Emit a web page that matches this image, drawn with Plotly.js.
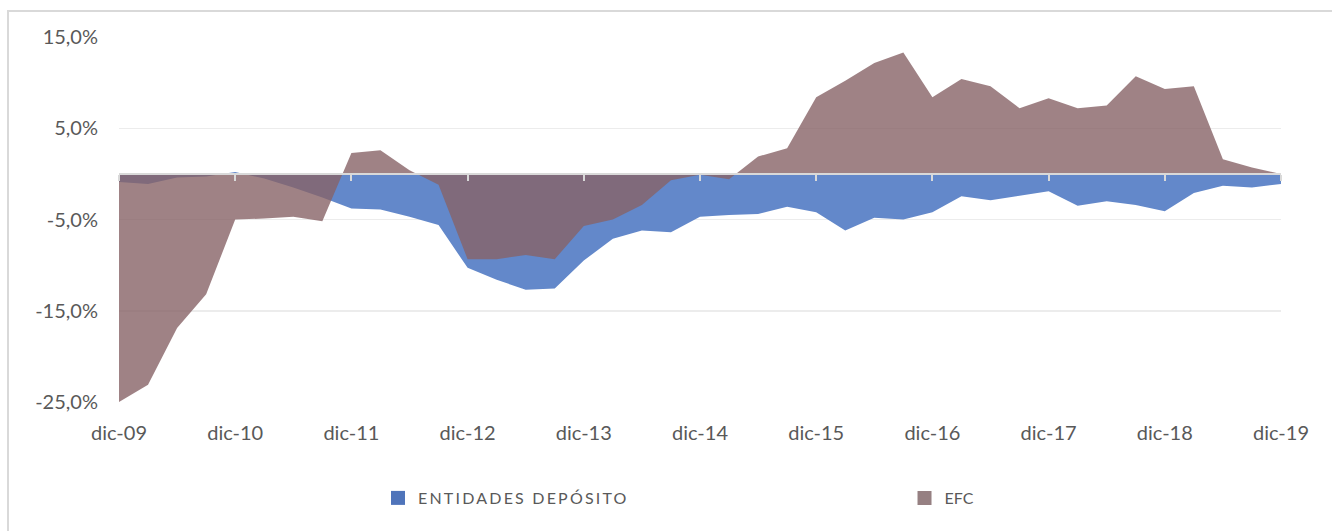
<!DOCTYPE html>
<html>
<head>
<meta charset="utf-8">
<script src="https://cdn.plot.ly/plotly-3.0.1.min.js"></script>
<style>
  html, body { margin: 0; padding: 0; background: #ffffff; overflow: hidden; }
  #frame { position: absolute; left: 7px; top: 10px; width: 1400px; height: 600px;
           border: 2px solid #d9d9d9; box-sizing: border-box; }
  #chart { position: absolute; left: 0; top: 0; width: 1332px; height: 531px; }
  .legendtext { letter-spacing: 2.2px; }
</style>
</head>
<body>
<div id="frame"></div>
<div id="chart"></div>
<script>
// Quarterly categories
const categories = [
  'dic-09','mar-10','jun-10','sep-10','dic-10','mar-11','jun-11','sep-11',
  'dic-11','mar-12','jun-12','sep-12','dic-12','mar-13','jun-13','sep-13',
  'dic-13','mar-14','jun-14','sep-14','dic-14','mar-15','jun-15','sep-15',
  'dic-15','mar-16','jun-16','sep-16','dic-16','mar-17','jun-17','sep-17',
  'dic-17','mar-18','jun-18','sep-18','dic-18','mar-19','jun-19','sep-19',
  'dic-19'
];

// ENTIDADES DEPÓSITO (%)
const entidadesDeposito = [
  -0.9, -1.1, -0.4, -0.3, 0.2, -0.5, -1.5, -2.6,
  -3.8, -3.9, -4.7, -5.6, -10.3, -11.6, -12.7, -12.55,
  -9.5, -7.1, -6.2, -6.4, -4.7, -4.5, -4.4, -3.6,
  -4.2, -6.2, -4.8, -5.0, -4.2, -2.45, -2.9, -2.4,
  -1.9, -3.5, -3.0, -3.4, -4.1, -2.1, -1.3, -1.5,
  -1.1
];

// EFC (%)
const efc = [
  -25.0, -23.1, -16.9, -13.2, -5.0, -4.9, -4.7, -5.2,
  2.3, 2.6, 0.4, -1.2, -9.35, -9.35, -8.9, -9.35,
  -5.7, -5.0, -3.4, -0.7, -0.1, -0.6, 1.9, 2.8,
  8.4, 10.2, 12.15, 13.3, 8.4, 10.4, 9.6, 7.2,
  8.3, 7.2, 7.5, 10.7, 9.3, 9.6, 1.6, 0.7,
  0.0
];

const seriesNames = ['ENTIDADES DEPÓSITO', 'EFC'];
const xTickLabels = ['dic-09','dic-10','dic-11','dic-12','dic-13','dic-14','dic-15','dic-16','dic-17','dic-18','dic-19'];
const yTickValues = [-25, -15, -5, 5, 15];
const yTickText = ['-25,0%', '-15,0%', '-5,0%', '5,0%', '15,0%'];

const FONT = 'Lato, "Open Sans", "Liberation Sans", sans-serif';
const TXT = '#595959';

const traces = [
  {
    type: 'scatter', x: categories, y: entidadesDeposito,
    mode: 'none', fill: 'tozeroy', fillcolor: '#6388ca',
    xaxis: 'x', yaxis: 'y', showlegend: false, hoverinfo: 'skip'
  },
  {
    type: 'scatter', x: categories, y: efc,
    mode: 'none', fill: 'tozeroy', fillcolor: 'rgba(135,99,102,0.80)',
    xaxis: 'x2', yaxis: 'y', showlegend: false, hoverinfo: 'skip'
  },
  {
    type: 'scatter', x: [null], y: [null], mode: 'markers', name: seriesNames[0],
    marker: { symbol: 'square', size: 14, color: '#4f74ba' },
    xaxis: 'x', yaxis: 'y', showlegend: true, legend: 'legend'
  },
  {
    type: 'scatter', x: [null], y: [null], mode: 'markers', name: seriesNames[1],
    marker: { symbol: 'square', size: 14, color: '#968082' },
    xaxis: 'x', yaxis: 'y', showlegend: true, legend: 'legend2'
  }
];

const legendCommon = {
  orientation: 'h', xanchor: 'left', yanchor: 'middle', y: -0.263,
  font: { family: FONT, size: 16, color: TXT },
  bgcolor: 'rgba(0,0,0,0)', itemclick: false
};

const layout = {
  width: 1332, height: 531,
  margin: { l: 119, r: 51, t: 37, b: 129, autoexpand: false },
  paper_bgcolor: 'rgba(0,0,0,0)',
  plot_bgcolor: 'rgba(0,0,0,0)',
  separators: ',.',
  font: { family: FONT, color: TXT, size: 20 },
  xaxis: {
    type: 'category', categoryorder: 'array', categoryarray: categories,
    range: [0, categories.length - 1],
    tickmode: 'array', tickvals: xTickLabels, ticktext: xTickLabels,
    showgrid: false, zeroline: false, showline: false, ticks: '',
    tickfont: { family: FONT, size: 20, color: TXT },
    ticklabelstandoff: 17, fixedrange: true
  },
  xaxis2: {
    type: 'category', categoryorder: 'array', categoryarray: categories,
    range: [0, categories.length - 1],
    overlaying: 'x', anchor: 'free', position: 0.625,
    tickmode: 'array', tickvals: xTickLabels,
    showticklabels: false, showgrid: false, zeroline: false,
    showline: true, linecolor: '#d9d9d9', linewidth: 2,
    ticks: 'outside', ticklen: 6, tickwidth: 2, tickcolor: '#d9d9d9',
    layer: 'above traces', fixedrange: true
  },
  yaxis: {
    range: [-25, 15],
    tickmode: 'array', tickvals: yTickValues, ticktext: yTickText,
    showgrid: true, gridcolor: '#ececec', gridwidth: 1.5,
    zeroline: false, showline: false, ticks: '',
    tickfont: { family: FONT, size: 20, color: TXT },
    ticklabelstandoff: 20, fixedrange: true
  },
  showlegend: true,
  legend: Object.assign({}, legendCommon, { x: 0.2229 }),
  legend2: Object.assign({}, legendCommon, { x: 0.676 })
};

Plotly.newPlot('chart', traces, layout, { staticPlot: true, displayModeBar: false });
</script>
</body>
</html>
